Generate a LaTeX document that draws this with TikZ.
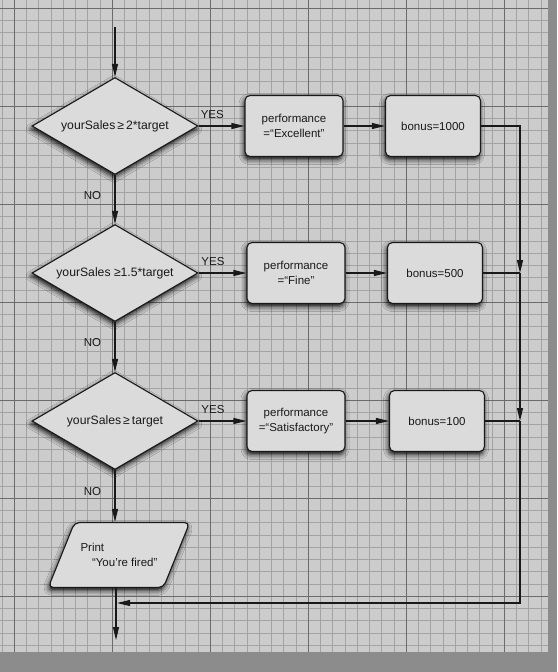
\documentclass[tikz,border=0pt]{standalone}
\usepackage{fontspec}
\setmainfont{Liberation Sans}
\usetikzlibrary{arrows.meta,shapes.geometric,shadows.blur}

\definecolor{desk}{gray}{0.55}
\definecolor{paper}{gray}{0.80}
\definecolor{gridminor}{gray}{0.64}
\definecolor{gridmajor}{gray}{0.42}
\definecolor{boxfill}{gray}{0.86}
\definecolor{ink}{gray}{0.10}

\tikzset{
  shade/.style={blur shadow={shadow xshift=-1pt, shadow yshift=-3pt,
      shadow blur radius=5pt, shadow opacity=95}},
  box/.style={draw=ink, line width=1.1pt, fill=boxfill, rounded corners=5pt,
      minimum width=98pt, minimum height=61pt, align=center, shade},
  test/.style={diamond, draw=ink, line width=1.1pt, fill=boxfill, aspect=1.7,
      minimum width=166pt, minimum height=97pt, inner sep=0pt, shade,
      font=\fontsize{12.2}{14.5}\selectfont},
  io/.style={trapezium, trapezium left angle=68, trapezium right angle=112,
      draw=ink, line width=1.1pt, fill=boxfill, rounded corners=5pt,
      inner xsep=6pt, inner ysep=21pt, align=left, shade},
  flow/.style={draw=ink, line width=1.1pt, -{Triangle[length=13pt,width=6pt]}},
  link/.style={draw=ink, line width=1.1pt},
  yes/.style={above=4pt, pos=.3},
  no/.style={left=10pt, pos=.42}
}

\begin{document}
\begin{tikzpicture}[x=1pt, y=-1pt, every node/.style={text=ink,
    font=\fontsize{11.5}{14.5}\selectfont}]

\useasboundingbox (0,0) rectangle (557,672);

% grid paper
\fill[desk] (0,0) rectangle (557,672);
\fill[paper] (0,0) rectangle (548,652);
\begin{scope}
  \clip (0,0) rectangle (548,652);
  \foreach \k in {-1,...,44}
    \draw[gridminor, line width=.5pt] (14+12.25*\k,0) -- (14+12.25*\k,652);
  \foreach \k in {-1,...,53}
    \draw[gridminor, line width=.5pt] (0,8+12.25*\k) -- (548,8+12.25*\k);
  \foreach \k in {0,...,5}
    \draw[gridmajor, line width=.8pt] (14+98*\k,0) -- (14+98*\k,652);
  \foreach \k in {0,...,6}
    \draw[gridmajor, line width=.8pt] (0,8+98*\k) -- (548,8+98*\k);
\end{scope}

% decisions
\node[test] (d1) at (115,126) {yourSales\,≥\,2*target};
\node[test] (d2) at (115,273) {yourSales ≥1.5*target};
\node[test] (d3) at (115,421) {yourSales\,≥\,target};

% assignments
\node[box] (p1) at (294,126) {performance\\=“Excellent”};
\node[box] (p2) at (296,273) {performance\\=“Fine”};
\node[box] (p3) at (296,421) {performance\\=“Satisfactory”};
\node[box, minimum width=95pt] (b1) at (433,126) {bonus=1000};
\node[box, minimum width=95pt] (b2) at (435,273) {bonus=500};
\node[box, minimum width=95pt] (b3) at (437,421) {bonus=100};

% output
\node[io] (fired) at (119,555) {Print\\\quad“You’re fired”};

\coordinate (start) at (115,27);
\coordinate (j1) at (520,273);
\coordinate (j2) at (520,421);
\coordinate (back) at (117,603);
\coordinate (exit) at (116,640);

\draw[flow] (start) -- (d1);
\draw[flow] (d1) -- node[yes]{YES} (p1);
\draw[flow] (d2) -- node[yes]{YES} (p2);
\draw[flow] (d3) -- node[yes]{YES} (p3);
\draw[flow] (p1) -- (b1);
\draw[flow] (p2) -- (b2);
\draw[flow] (p3) -- (b3);
\draw[flow] (d1) -- node[no]{NO} (d2);
\draw[flow] (d2) -- node[no]{NO} (d3);
\draw[flow] (d3.south) -- node[no]{NO} (d3.south |- fired.north);

\draw[flow] (b1) -| (j1);
\draw[link] (b2) -- (j1);
\draw[flow] (j1) -- (j2);
\draw[link] (b3) -- (j2);
\draw[flow] (j2) |- (back);
\draw[flow] (fired.south -| exit) -- (exit);

\end{tikzpicture}
\end{document}
